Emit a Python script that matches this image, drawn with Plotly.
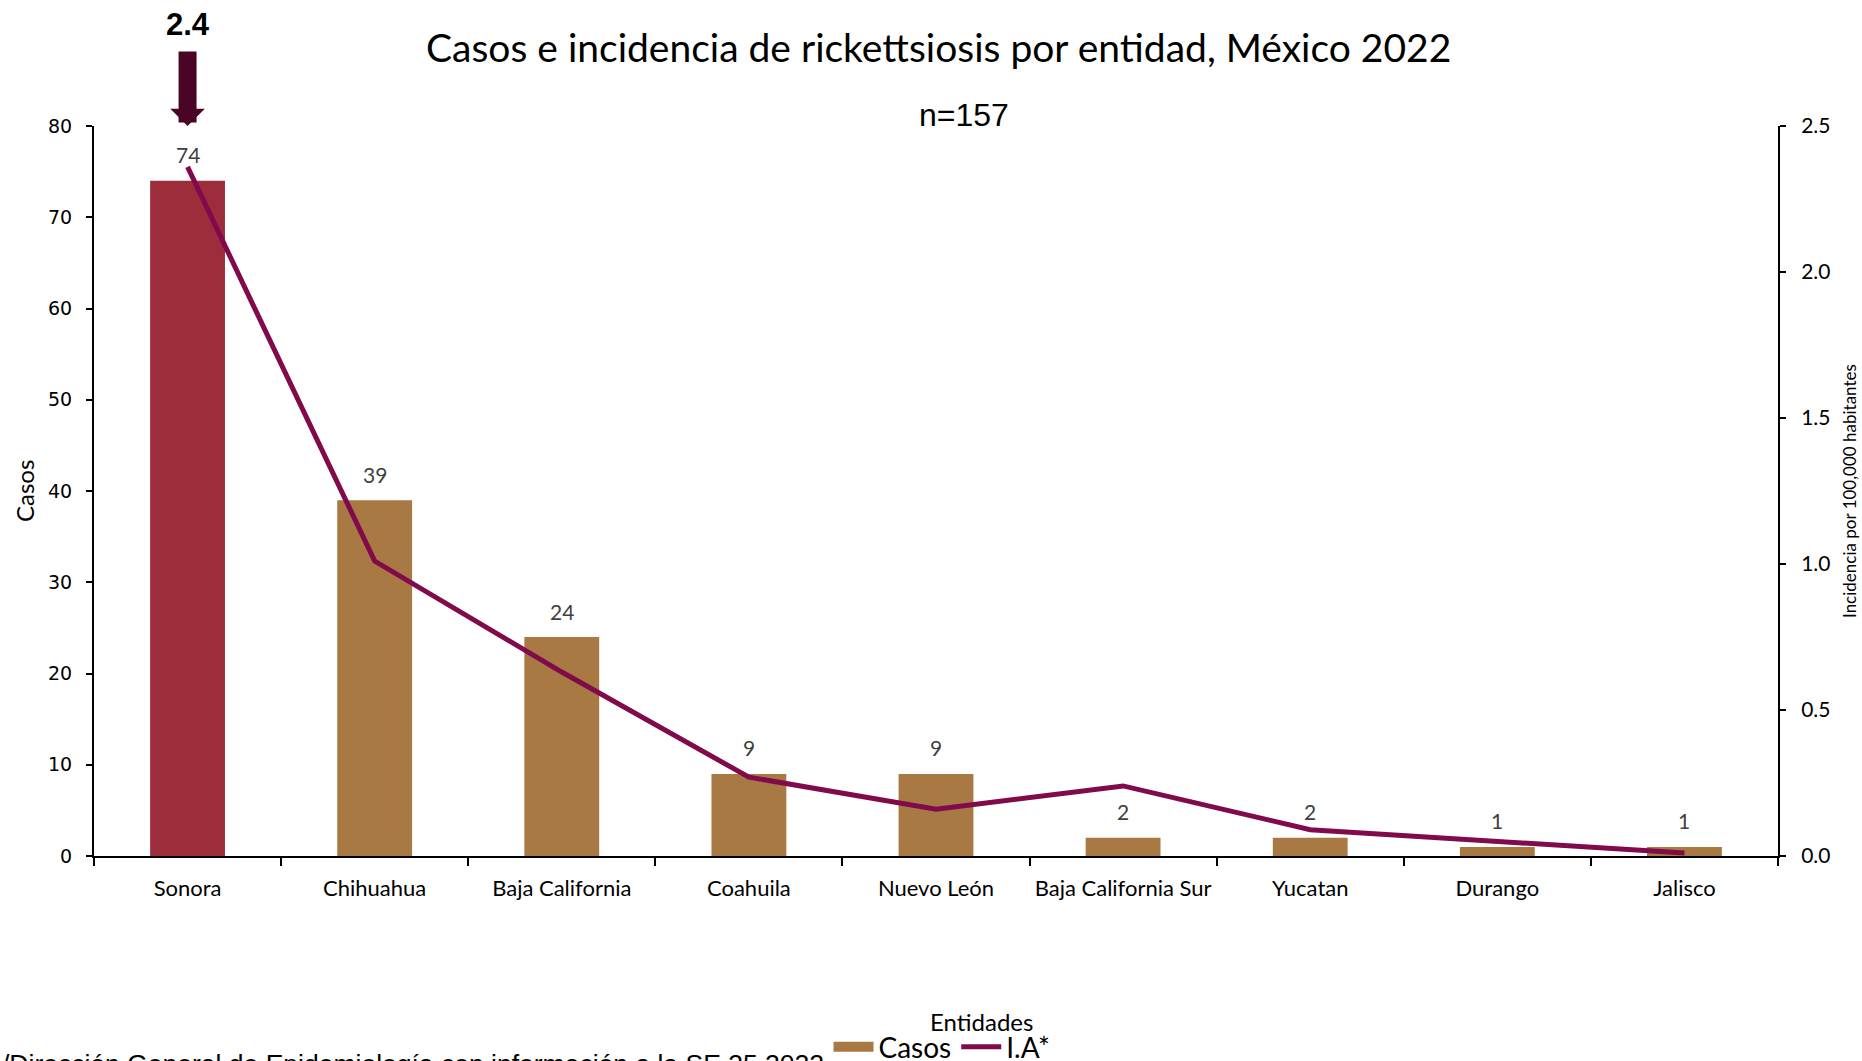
import plotly.graph_objects as go

entidades = ["Sonora", "Chihuahua", "Baja California", "Coahuila", "Nuevo León",
             "Baja California Sur", "Yucatan", "Durango", "Jalisco"]
casos = [74, 39, 24, 9, 9, 2, 2, 1, 1]
incidencia = [2.36, 1.01, 0.63, 0.27, 0.16, 0.24, 0.09, 0.05, 0.01]
y1_ticks = [0, 10, 20, 30, 40, 50, 60, 70, 80]
y2_ticks = [0.0, 0.5, 1.0, 1.5, 2.0, 2.5]
n_total = 157

BAR = "#A97943"
bar_colors = ["#9E2D3C"] + [BAR] * (len(entidades) - 1)
LINE = "#800A4C"
CAL = "Lato, Open Sans, sans-serif"
ARIAL = "Liberation Sans, Arial, sans-serif"

fig = go.Figure()
fig.add_trace(go.Bar(
    x=entidades, y=casos, name="Casos",
    marker=dict(color=bar_colors, line=dict(width=0)),
    showlegend=False,
))
# legend-only entry that shows a wide rectangular swatch
fig.add_trace(go.Scatter(
    x=[None], y=[None], name="Casos", mode="lines",
    line=dict(color=BAR, width=17), showlegend=True, hoverinfo="skip",
))
fig.add_trace(go.Scatter(
    x=entidades, y=incidencia, name="I.A*", yaxis="y2",
    mode="lines", line=dict(color=LINE, width=5),
))

annotations = []
for e, c in zip(entidades, casos):
    annotations.append(dict(x=e, y=c, xref="x", yref="y", text=str(c),
                            showarrow=False, yshift=26, yanchor="middle",
                            font=dict(family=CAL, size=21, color="#404040")))

# arrow pointing to Sonora with its incidence
annotations.append(dict(x=entidades[0], y=y1_ticks[-1], xref="x", yref="y",
                        ax=0, ay=-76, axref="pixel", ayref="pixel",
                        text="", showarrow=True, arrowhead=1, arrowsize=0.32,
                        arrowwidth=18, arrowcolor="#4A0526", standoff=0))
annotations.append(dict(x=entidades[0], y=1, xref="x", yref="paper",
                        yshift=126 - 24, yanchor="middle",
                        text="<b>%.1f</b>" % incidencia[0], showarrow=False,
                        font=dict(family=ARIAL, size=31, color="black")))

annotations += [
    dict(x=0.5, xref="paper", y=1, yref="paper", yshift=126 - 47, yanchor="middle",
         text="Casos e incidencia de rickettsiosis por entidad, México 2022",
         showarrow=False, xshift=938 - 936, font=dict(family=CAL, size=39, color="black")),
    dict(x=0.5, xref="paper", y=1, yref="paper", yshift=126 - 115, yanchor="middle",
         xshift=964 - 936,
         text="n=%d" % n_total, showarrow=False,
         font=dict(family=ARIAL, size=32, color="black")),
    dict(x=0, xref="paper", y=0.5, yref="paper", xshift=24 - 94, xanchor="center",
         text="Casos", textangle=-90, showarrow=False,
         font=dict(family=CAL, size=24, color="black")),
    dict(x=1, xref="paper", y=0.5, yref="paper", xshift=1849 - 1778, xanchor="center",
         text="Incidencia por 100,000 habitantes", textangle=-90, showarrow=False,
         font=dict(family=CAL, size=17, color="black")),
    dict(x=0.5, xref="paper", y=0, yref="paper", yshift=-(1021 - 856), xshift=981 - 936,
         yanchor="middle", text="Entidades", showarrow=False,
         font=dict(family=CAL, size=24, color="black")),
    dict(x=0, xref="paper", y=0, yref="paper", xshift=-94, yshift=-(1064 - 856),
         xanchor="left", yanchor="middle",
         text="/Dirección General de Epidemiología con información a la SE 35 2022",
         showarrow=False, font=dict(family=ARIAL, size=26.5, color="black")),
]

fig.update_layout(
    width=1862, height=1061,
    margin=dict(l=94, r=84, t=126, b=205, autoexpand=False),
    paper_bgcolor="white", plot_bgcolor="white",
    bargap=0.6,
    showlegend=True,
    legend=dict(orientation="h", x=942 / 1862, xanchor="center", xref="container",
                y=1 - 1047 / 1061, yanchor="middle", yref="container",
                font=dict(family=CAL, size=28, color="black"),
                bgcolor="rgba(0,0,0,0)", itemwidth=40, tracegroupgap=0),
    xaxis=dict(type="category", tickson="boundaries", ticks="outside", ticklen=8,
               tickwidth=2, tickcolor="black", showline=True, linecolor="black",
               linewidth=2, showgrid=False, tickfont=dict(family=CAL, size=22, color="black"),
               automargin=False, ticklabelstandoff=12),
    yaxis=dict(range=[0, 80], tickvals=y1_ticks, ticks="outside", ticklen=6,
               tickwidth=1.5, tickcolor="black", showline=True, linecolor="black",
               linewidth=2, showgrid=False, zeroline=False, automargin=False,
               ticklabelstandoff=10,
               tickfont=dict(family="DejaVu Sans", size=19, color="black")),
    yaxis2=dict(range=[0, 2.5], tickvals=y2_ticks, tickformat=".1f", overlaying="y",
                side="right", ticks="outside", ticklen=6, tickwidth=1.5,
                tickcolor="black", showline=True, linecolor="black", linewidth=2,
                showgrid=False, zeroline=False, automargin=False,
                ticklabelstandoff=11,
                tickfont=dict(family=CAL, size=21, color="black")),
    annotations=annotations,
)

fig.write_html("out.html", config={"displayModeBar": False},
               post_script="document.body.style.margin='0';document.body.style.overflow='hidden';")
